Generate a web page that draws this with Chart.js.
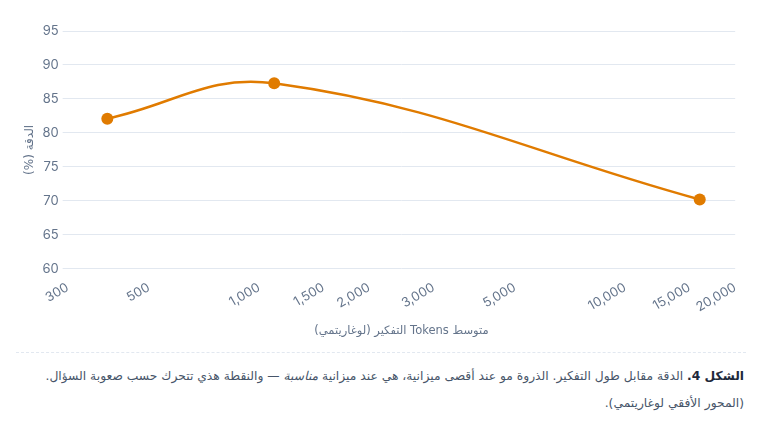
<!DOCTYPE html>
<html lang="ar" dir="rtl">
<head>
<meta charset="utf-8">
<script src="https://cdn.jsdelivr.net/npm/chart.js@4.4.1/dist/chart.umd.min.js"></script>
<style>
  html, body { margin: 0; padding: 0; background: #fff; }
  body { font-family: Inter, "DejaVu Sans", sans-serif; width: 762px; height: 423px; overflow: hidden; }
  .wrap { padding: 0 16px; }
  .chart-box { position: relative; height: 342px; }
  .sep { border: 0; border-top: 1px dashed #e2e8f0; margin: 10px 0 0 0; }
  .cap { font-family: "DejaVu Sans", sans-serif; font-size: 12.3px; color: #475569; line-height: 27px; margin: 10px 2px 0 0; text-align: right; }
  .cap b { color: #1e293b; letter-spacing: 0.04em; }
</style>
</head>
<body>
<div class="wrap">
  <div class="chart-box"><canvas id="c" dir="rtl"></canvas></div>
  <hr class="sep">
  <div class="cap"><b>الشكل 4.</b> الدقة مقابل طول التفكير. الذروة مو عند أقصى ميزانية، هي عند ميزانية <i>مناسبة</i> — والنقطة هذي تتحرك حسب صعوبة السؤال. (المحور الأفقي لوغاريتمي).</div>
</div>
<script>
const tokens = [385, 1100, 16000];
const accuracy = [82.1, 87.3, 70.2];
const xTickValues = [300, 500, 1000, 1500, 2000, 3000, 5000, 10000, 15000, 20000];
const yMin = 60, yMax = 95, yStep = 5;
const xTitle = 'متوسط Tokens التفكير (لوغاريتمي)';
const yTitle = 'الدقة (%)';

const color = '#e07b00';
const tickColor = '#64748b';

new Chart(document.getElementById('c'), {
  type: 'line',
  data: {
    datasets: [{
      data: tokens.map((t, i) => ({ x: t, y: accuracy[i] })),
      borderColor: color,
      backgroundColor: color,
      borderWidth: 2.5,
      pointRadius: 6,
      pointHoverRadius: 6,
      pointBorderWidth: 0,
      tension: 0.4,
      fill: false
    }]
  },
  options: {
    responsive: true,
    maintainAspectRatio: false,
    animation: false,
    layout: { padding: { top: 31, right: 2, left: 0, bottom: 0 } },
    plugins: { legend: { display: false }, tooltip: { enabled: false } },
    scales: {
      x: {
        type: 'logarithmic',
        min: 300,
        max: 20000,
        afterBuildTicks: (scale) => { scale.ticks = xTickValues.map(v => ({ value: v })); },
        ticks: {
          color: tickColor,
          font: { family: 'Inter, "DejaVu Sans", sans-serif', size: 13 },
          minRotation: 30,
          maxRotation: 30,
          autoSkip: false,
          callback: (v) => Number(v).toLocaleString('en-US')
        },
        grid: { display: false },
        border: { display: false },
        title: {
          display: true,
          text: xTitle,
          color: tickColor,
          font: { family: '"DejaVu Sans", sans-serif', size: 11.5 },
          padding: { top: 6, bottom: 4 }
        }
      },
      y: {
        min: yMin,
        max: yMax,
        ticks: {
          stepSize: yStep,
          color: tickColor,
          font: { family: 'Inter, "DejaVu Sans", sans-serif', size: 13 },
          padding: 4
        },
        grid: { color: '#e2e8f0', tickLength: 5 },
        border: { display: false },
        title: {
          display: true,
          text: yTitle,
          color: tickColor,
          font: { family: '"DejaVu Sans", sans-serif', size: 12 },
          padding: { top: 7, bottom: 1 }
        }
      }
    }
  }
});
</script>
</body>
</html>
